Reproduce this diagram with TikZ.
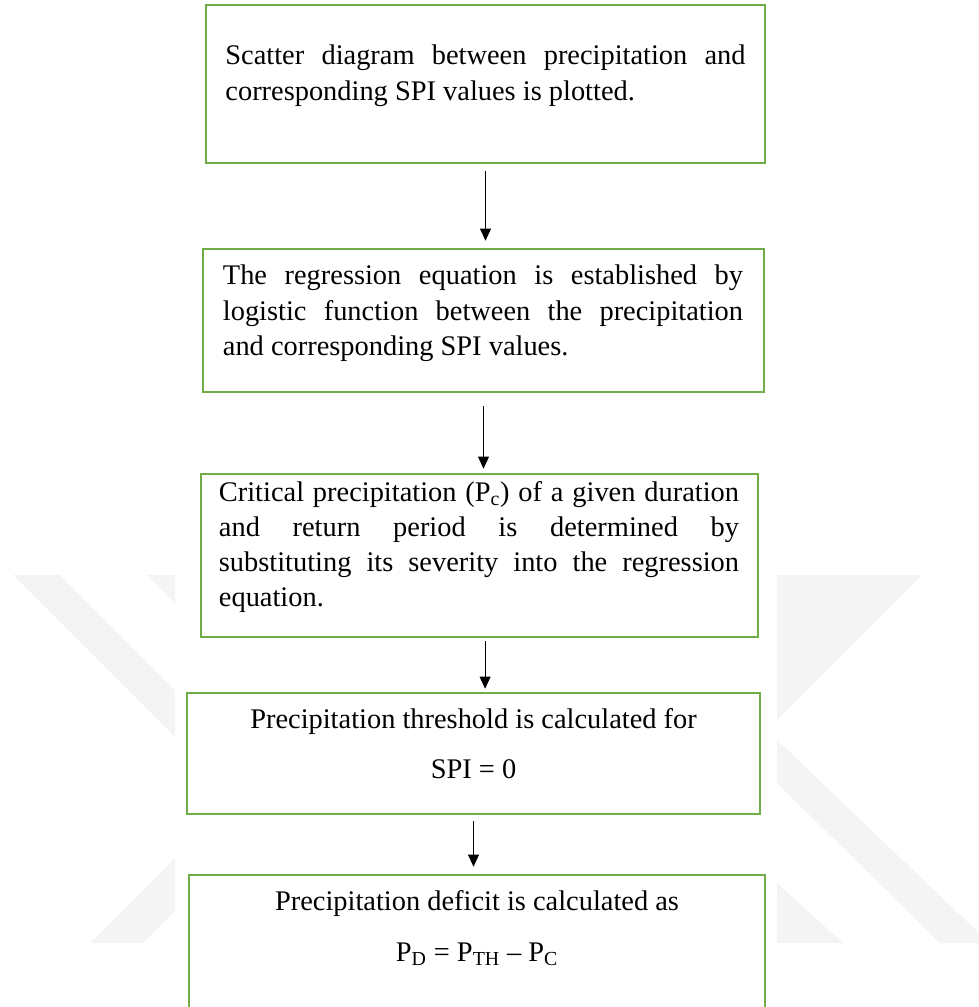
\documentclass[tikz,border=0pt]{standalone}
\usepackage{fontspec}
\setmainfont{Liberation Serif}
\usepackage{tikz}
\usetikzlibrary{arrows.meta, positioning}
\usetikzlibrary{calc}
\usepackage{xcolor}
\definecolor{boxgreen}{HTML}{70AD47}
\definecolor{wmgray}{HTML}{F4F4F4}

\begin{document}
\begin{tikzpicture}[x=0.025cm, y=-0.025cm,
	stagebox/.style={draw=boxgreen, line width=1.8pt, fill=white, inner sep=0pt},
	steptext/.style={anchor=north, inner sep=0pt, text width=13cm, align=justify, font=\fontsize{20.2}{24.9}\selectfont},
	centertext/.style={anchor=north, inner sep=0pt, align=center, font=\fontsize{20.2}{24.9}\selectfont},
	flow/.style={-{Triangle[length=0.3cm, width=0.27cm]}, line width=0.7pt, black}]
				\useasboundingbox (0,0) rectangle (979,1007);
				% watermark in the back
				\fill[wmgray] (13,575) -- (60,575) -- (175,690) -- (175,737) -- cycle;
				\fill[wmgray] (147,575) -- (175,575) -- (175,603) -- cycle;
				\fill[wmgray] (90,943) -- (143,943) -- (175,911) -- (175,858) -- cycle;
				\fill[wmgray] (777,575) -- (922,575) -- (777,720) -- cycle;
				\fill[wmgray] (777,740) -- (979,933) -- (979,943) -- (940,943) -- (777,783) -- cycle;
				\fill[wmgray] (777,883) -- (843,943) -- (777,943) -- cycle;
				% boxes
				\node[stagebox, minimum width=13.975cm, minimum height=3.95cm] (scatter) at (485.5,84) {};
				\node[stagebox, minimum width=14.025cm, minimum height=3.575cm] (regression) at (483.5,320.5) {};
				\node[stagebox, minimum width=13.925cm, minimum height=4.075cm] (critical) at (479.5,555.5) {};
				\node[stagebox, minimum width=14.325cm, minimum height=3.025cm] (threshold) at (473.5,753.5) {};
				\node[stagebox, minimum width=14.4cm, minimum height=3.425cm] (deficit) at (477,943.5) {};
				% texts
				\node[steptext] (scattertext) at (485.5,45) {Scatter diagram between precipitation and \linebreak corresponding SPI values is plotted.};
				\node[steptext] (regressiontext) at (483,265) {The regression equation is established by \linebreak logistic function between the precipitation \linebreak and corresponding SPI values.};
				\node[steptext] (criticaltext) at (479,481) {Critical precipitation (P\textsubscript{c}) of a given duration \linebreak and return period is determined by \linebreak substituting its severity into the regression \linebreak equation.};
				\node[centertext] (thresholdtext) at (473.5,708) {Precipitation threshold is calculated for\\[0.375cm] SPI = 0};
				\node[centertext] (deficittext) at (477,890) {Precipitation deficit is calculated as\\[0.4cm] P\textsubscript{D} = P\textsubscript{TH} -- P\textsubscript{C}};
				% arrows
				\draw[flow, shorten <=0.175cm, shorten >=0.175cm] (scatter.south) -- (scatter.south |- regression.north);
				\draw[flow, shorten <=0.325cm, shorten >=0.1cm] (regression.south) -- (regression.south |- critical.north);
				\draw[flow, shorten <=0.075cm, shorten >=0.075cm] ([xshift=0.14cm]critical.south) -- ([xshift=0.14cm]critical.south |- threshold.north);
				\draw[flow, shorten <=0.15cm, shorten >=0.175cm] (threshold.south) -- (threshold.south |- deficit.north);
			\end{tikzpicture}
\end{document}
